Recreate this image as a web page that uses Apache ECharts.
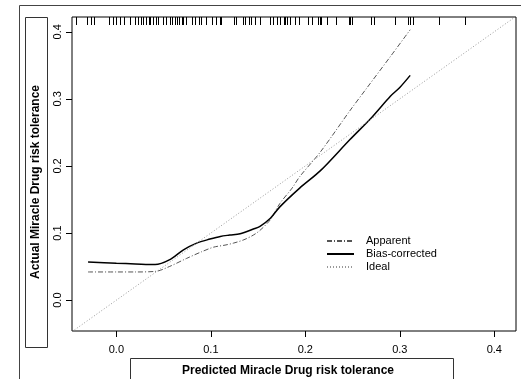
<!DOCTYPE html>
<html lang="en">
<head>
<meta charset="UTF-8">
<title>Calibration</title>
<script src="https://cdn.jsdelivr.net/npm/echarts@6/dist/echarts.min.js"></script>
<style>
    html, body { margin: 0; padding: 0; background: #fff; }
    #main { width: 521px; height: 379px; }
</style>
</head>
<body>
<div id="main"></div>
<script>
// tick labels
var xTicks = [0.0, 0.1, 0.2, 0.3, 0.4];
var yTicks = [0.0, 0.1, 0.2, 0.3, 0.4];

// apparent calibration curve
var apparentX = [-0.030, 0.000, 0.020, 0.042, 0.056, 0.074, 0.090, 0.103, 0.115, 0.124, 0.135, 0.145, 0.152, 0.163, 0.173, 0.186, 0.194, 0.216, 0.247, 0.265, 0.290, 0.311];
var apparentY = [0.042, 0.042, 0.042, 0.043, 0.050, 0.062, 0.072, 0.079, 0.082, 0.085, 0.090, 0.097, 0.104, 0.120, 0.144, 0.167, 0.184, 0.221, 0.282, 0.316, 0.363, 0.403];

// bias-corrected curve
var biasX = [-0.030, 0.000, 0.020, 0.041, 0.056, 0.071, 0.085, 0.099, 0.110, 0.120, 0.131, 0.145, 0.152, 0.163, 0.173, 0.194, 0.216, 0.247, 0.270, 0.290, 0.300, 0.311];
var biasY = [0.057, 0.055, 0.054, 0.053, 0.060, 0.075, 0.085, 0.091, 0.095, 0.097, 0.099, 0.106, 0.110, 0.122, 0.139, 0.167, 0.193, 0.239, 0.272, 0.304, 0.317, 0.335];

// ideal line
var idealX = [-0.047, 0.423];
var idealY = [-0.047, 0.423];

// rug of predicted values (top)
var rugX = [-0.043, -0.031, -0.027, -0.024, -0.008, -0.004, 0.000, 0.004, 0.008, 0.014,
    0.020, 0.023, 0.026, 0.028, 0.031, 0.034, 0.036, 0.039, 0.042, 0.044,
    0.049, 0.052, 0.057, 0.059, 0.062, 0.064, 0.066, 0.069, 0.071, 0.074,
    0.080, 0.083, 0.087, 0.090, 0.095, 0.101, 0.105, 0.110, 0.111,
    0.124, 0.127, 0.134, 0.136, 0.140, 0.143, 0.147, 0.152,
    0.163, 0.166, 0.170, 0.173, 0.177, 0.179, 0.181, 0.184,
    0.189, 0.193, 0.203, 0.207, 0.213, 0.215, 0.217, 0.223, 0.232,
    0.246, 0.247, 0.249, 0.269, 0.273, 0.295, 0.309, 0.311, 0.314, 0.341, 0.369];

function zip(a, b) {
    var out = [];
    for (var i = 0; i < a.length; i++) {
        out.push([a[i], b[i]]);
    }
    return out;
}

var font = 'Liberation Sans, Arial, sans-serif';
var myChart = echarts.init(document.getElementById('main'));

var option = {
    animation: false,
    backgroundColor: '#fff',
    grid: {
        left: 72, top: 17, right: 5, bottom: 48,
        show: true, borderColor: '#000', borderWidth: 1
    },
    xAxis: {
        type: 'value',
        min: -0.047,
        max: 0.423,
        axisLine: { show: false, onZero: false },
        splitLine: { show: false },
        axisTick: { show: true, customValues: xTicks, length: 6, lineStyle: { color: '#000' } },
        axisLabel: {
            customValues: xTicks,
            formatter: function (v) { return v.toFixed(1); },
            margin: 13, fontSize: 11, color: '#000', fontFamily: font
        }
    },
    yAxis: {
        type: 'value',
        min: -0.046,
        max: 0.422,
        axisLine: { show: false, onZero: false },
        splitLine: { show: false },
        axisTick: { show: true, customValues: yTicks, length: 6, lineStyle: { color: '#000' } },
        axisLabel: {
            customValues: yTicks,
            rotate: 90,
            formatter: function (v) { return v.toFixed(1); },
            margin: 9, fontSize: 11, color: '#000', fontFamily: font
        }
    },
    legend: {
        orient: 'vertical',
        left: 321,
        top: 230,
        itemWidth: 27,
        itemHeight: 8,
        itemGap: 1,
        data: ['Apparent', 'Bias-corrected', 'Ideal'],
        itemStyle: { opacity: 0 },
        textStyle: { fontSize: 11, color: '#000', fontFamily: font, padding: [0, 0, 0, 7], lineHeight: 12 }
    },
    graphic: [
        // outer frame
        { type: 'rect', z: -1, shape: { x: 19.5, y: 5.5, width: 560, height: 420 },
          style: { fill: 'none', stroke: '#444', lineWidth: 1 } },
        // y axis title box
        { type: 'rect', shape: { x: 25.5, y: 17.5, width: 22, height: 330 },
          style: { fill: 'none', stroke: '#333', lineWidth: 1 } },
        { type: 'text', x: 36, y: 182, rotation: Math.PI / 2,
          style: { text: 'Actual Miracle Drug risk tolerance', font: 'bold 12px ' + font,
                   fill: '#000', align: 'center', verticalAlign: 'middle' } },
        // x axis title box
        { type: 'rect', shape: { x: 130.5, y: 358.5, width: 323, height: 40 },
          style: { fill: 'none', stroke: '#333', lineWidth: 1 } },
        { type: 'text', x: 288, y: 371,
          style: { text: 'Predicted Miracle Drug risk tolerance', font: 'bold 12px ' + font,
                   fill: '#000', align: 'center', verticalAlign: 'middle' } }
    ],
    series: [
        {
            name: 'Apparent',
            type: 'line',
            data: zip(apparentX, apparentY),
            symbol: 'none',
            smooth: 0.3,
            lineStyle: { color: '#555', width: 1, type: [5, 2, 1, 2] }
        },
        {
            name: 'Bias-corrected',
            type: 'line',
            data: zip(biasX, biasY),
            symbol: 'none',
            smooth: 0.3,
            lineStyle: { color: '#000', width: 1.5, type: 'solid' }
        },
        {
            name: 'Ideal',
            type: 'line',
            data: zip(idealX, idealY),
            symbol: 'none',
            lineStyle: { color: '#999', width: 1, type: [1, 2] }
        },
        {
            name: 'rug',
            type: 'custom',
            data: rugX.map(function (v) { return [v]; }),
            encode: { x: 0 },
            renderItem: function (params, api) {
                var p = api.coord([api.value(0), 0]);
                var top = params.coordSys.y;
                var x = Math.round(p[0]) + 0.5;
                return {
                    type: 'line',
                    shape: { x1: x, y1: top, x2: x, y2: top + 8 },
                    style: { stroke: '#000', lineWidth: 1 }
                };
            }
        }
    ]
};
myChart.setOption(option);
</script>
</body>
</html>
